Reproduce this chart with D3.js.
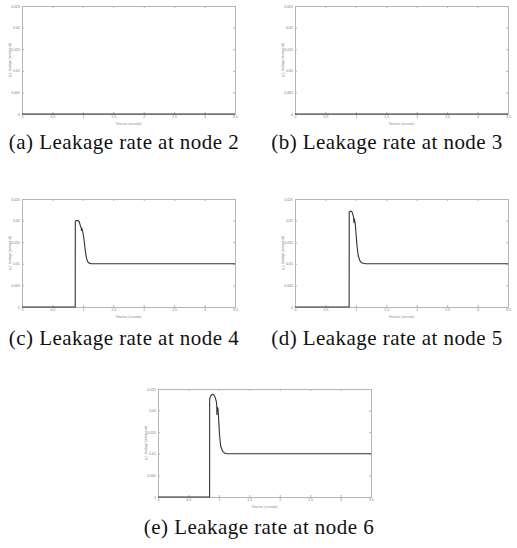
<!DOCTYPE html>
<html>
<head>
<meta charset="utf-8">
<script src="https://cdn.jsdelivr.net/npm/d3@7"></script>
<style>
  body { margin: 0; background: #fff; }
  svg { display: block; }
  .cap { font-family: "Liberation Serif", "Times New Roman", serif; }
</style>
</head>
<body>
<div id="chart"></div>
<script>
// ticks shared by every panel
const xTicks = [0, 0.5, 1, 1.5, 2, 2.5, 3, 3.5];
const xTickLabels = ["0", "0.5", "1", "1.5", "2", "2.5", "3", "3.5"];
const yTicks = [0, 0.005, 0.01, 0.015, 0.02, 0.025];
const yTickLabels = ["0", "0.005", "0.01", "0.015", "0.02", "0.025"];

// leakage series [time, rate]
const node2 = [[0, 0], [3.5, 0]];
const node3 = [[0, 0], [3.5, 0]];
const node4 = [[0,0],[0.875,0],[0.876,0.0198],[0.89,0.0200],[0.92,0.0200],[0.94,0.0197],[0.96,0.0188],
  [0.975,0.0182],[0.978,0.0176],[0.981,0.0183],[0.99,0.0178],[1.005,0.0170],[1.02,0.0155],[1.04,0.0130],
  [1.06,0.0113],[1.08,0.0105],[1.11,0.0101],[1.15,0.0100],[3.5,0.0100]];
const node5 = [[0,0],[0.89,0],[0.891,0.0220],[0.91,0.0222],[0.93,0.0221],[0.946,0.0217],[0.96,0.0209],
  [0.965,0.0203],[0.968,0.0195],[0.972,0.0205],[0.98,0.0200],[0.99,0.0193],[1.0,0.0175],[1.02,0.0140],
  [1.04,0.0118],[1.07,0.0106],[1.1,0.0102],[1.16,0.0100],[3.5,0.0100]];
const node6 = [[0,0],[0.848,0],[0.849,0.0228],[0.87,0.0235],[0.9,0.0238],[0.92,0.0236],[0.94,0.0230],
  [0.96,0.0220],[0.965,0.0212],[0.968,0.0190],[0.972,0.0208],[0.985,0.0205],[0.995,0.0185],[1.01,0.0145],
  [1.03,0.0118],[1.06,0.0106],[1.1,0.0101],[1.13,0.0100],[3.5,0.0100]];

const captions = ["(a) Leakage rate at node 2", "(b) Leakage rate at node 3",
  "(c) Leakage rate at node 4", "(d) Leakage rate at node 5", "(e) Leakage rate at node 6"];

const W = 517, H = 548;
const pw = 213, ph = 108;

const svg = d3.select("#chart").append("svg")
    .attr("width", W)
    .attr("height", H);

// left, top of plot box, caption center and baseline
const panels = [
  { data: node2, left: 22, top: 6, cx: 124, cy: 149 },
  { data: node3, left: 295, top: 6, cx: 387, cy: 149 },
  { data: node4, left: 22, top: 199, cx: 124, cy: 345 },
  { data: node5, left: 295, top: 199, cx: 387, cy: 345 },
  { data: node6, left: 158, top: 389, cx: 259, cy: 534 }
];

const axisCol = "#b5b5b5";

panels.forEach((p, i) => {
    const g = svg.append("g").attr("transform", `translate(${p.left},${p.top})`);

    const x = d3.scaleLinear().domain([0, 3.5]).range([0, pw]);
    const y = d3.scaleLinear().domain([0, 0.025]).range([ph, 0]);

    // inward ticks on all four sides, matlab style box
    g.append("g")
        .attr("transform", `translate(0,${ph})`)
        .call(d3.axisBottom(x).tickValues(xTicks).tickSize(-2).tickPadding(2)
            .tickFormat((d, k) => xTickLabels[k]))
        .call(s => s.selectAll("line,path").attr("stroke", axisCol))
        .call(s => s.selectAll("text").attr("font-size", 3.5).attr("fill", "#777")
            .attr("font-family", "Liberation Sans"));
    g.append("g")
        .call(d3.axisTop(x).tickValues(xTicks).tickSize(-2).tickFormat(""))
        .call(s => s.selectAll("line,path").attr("stroke", axisCol));
    g.append("g")
        .call(d3.axisLeft(y).tickValues(yTicks).tickSize(-2).tickPadding(2)
            .tickFormat((d, k) => yTickLabels[k]))
        .call(s => s.selectAll("line,path").attr("stroke", axisCol))
        .call(s => s.selectAll("text").attr("font-size", 3.5).attr("fill", "#777")
            .attr("font-family", "Liberation Sans"));
    g.append("g")
        .attr("transform", `translate(${pw},0)`)
        .call(d3.axisRight(y).tickValues(yTicks).tickSize(-2).tickFormat(""))
        .call(s => s.selectAll("line,path").attr("stroke", axisCol));

    // axis titles
    g.append("text")
        .attr("x", pw / 2).attr("y", ph + 10.5)
        .attr("text-anchor", "middle")
        .attr("font-size", 3).attr("fill", "#888")
        .attr("font-family", "Liberation Sans")
        .text("Time/sec (seconds)");
    g.append("text")
        .attr("transform", `translate(-11,${ph / 2}) rotate(-90)`)
        .attr("text-anchor", "middle")
        .attr("font-size", 3).attr("fill", "#888")
        .attr("font-family", "Liberation Sans")
        .text("q_L  Leakage (m³/second)");

    const line = d3.line().x(d => x(d[0])).y(d => y(d[1]));
    g.append("path")
        .datum(p.data)
        .attr("fill", "none")
        .attr("stroke", "#333")
        .attr("stroke-width", 1.1)
        .attr("d", line);

    svg.append("text")
        .attr("class", "cap")
        .attr("x", p.cx).attr("y", p.cy)
        .attr("text-anchor", "middle")
        .attr("font-size", 21)
        .attr("letter-spacing", 0.45)
        .attr("fill", "#111")
        .text(captions[i]);
});
</script>
</body>
</html>
